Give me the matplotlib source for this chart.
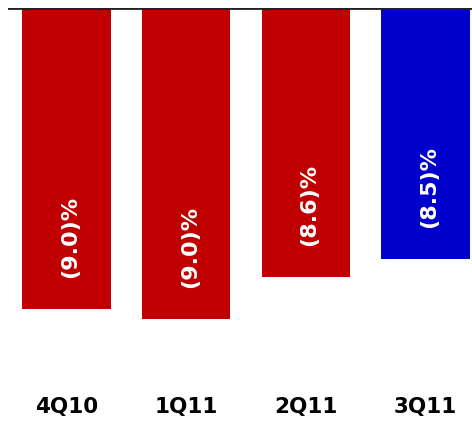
import matplotlib
matplotlib.use("Agg")
import matplotlib.pyplot as plt

categories = ["4Q10", "1Q11", "2Q11", "3Q11"]
values = [-9.0, -9.31, -8.04, -7.51]
labels = ["(9.0)%", "(9.0)%", "(8.6)%", "(8.5)%"]
colors = ["#C00000", "#C00000", "#C00000", "#0000CC"]

W, H = 472, 421
fig = plt.figure(figsize=(W / 100, H / 100), dpi=100)
ax_top, ax_bot = 7.5, 340
ax = fig.add_axes([8 / W, 1 - ax_bot / H, 1 - 8 / W, (ax_bot - ax_top) / H])

x = list(range(len(categories)))
ax.bar(x, values, width=0.74, color=colors, zorder=2)
ax.set_xlim(-0.49, 3.39)
ax.set_ylim(-(ax_bot - ax_top) / 33.5, 0)
ax.axhline(0, color="#222222", lw=2, zorder=3)

for xi, v, lab in zip(x, values, labels):
    ax.text(xi + 0.03, v + 2.15, lab, rotation=90, ha="center", va="center",
            color="white", fontsize=16, fontweight="bold",
            family="DejaVu Sans", zorder=4)

ax.set_xticks(x)
ax.set_xticklabels(categories, fontsize=15.5, fontweight="bold", family="DejaVu Sans")
ax.tick_params(axis="x", length=0, pad=41)
ax.set_yticks([])
for s in ax.spines.values():
    s.set_visible(False)

fig.savefig("out.png", dpi=100)
